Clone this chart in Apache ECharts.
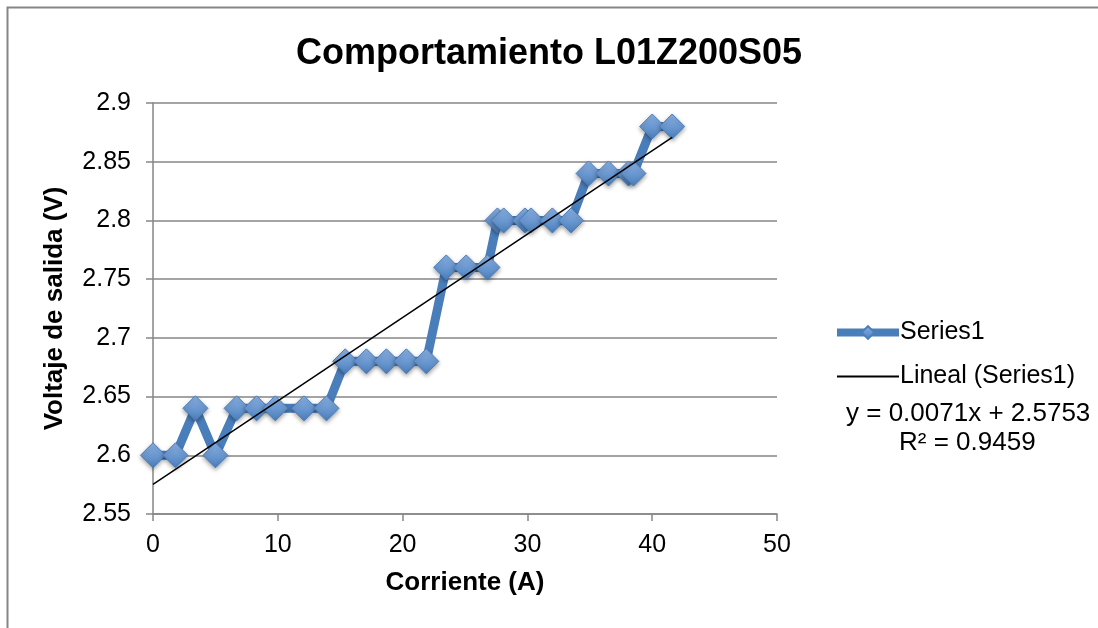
<!DOCTYPE html>
<html>
<head>
<meta charset="utf-8">
<script src="https://cdn.jsdelivr.net/npm/echarts@6/dist/echarts.min.js"></script>
<style>
  html, body { margin: 0; padding: 0; background: #fff; }
  #chart { width: 1098px; height: 628px; }
</style>
</head>
<body>
<div id="chart"></div>
<script>
// Measured current (A) and output voltage (V)
const corriente = [0, 1.8, 3.4, 5.0, 6.7, 8.3, 9.8, 12.1, 13.9, 15.4, 17.1, 18.7, 20.3, 21.9,
  23.5, 25.1, 26.8, 27.6, 28.1, 29.8, 30.3, 32.0, 33.5, 34.9, 36.5, 38.1, 38.5, 40.0, 41.6];
const voltaje = [2.60, 2.60, 2.64, 2.60, 2.64, 2.64, 2.64, 2.64, 2.64, 2.68, 2.68, 2.68, 2.68, 2.68,
  2.76, 2.76, 2.76, 2.80, 2.80, 2.80, 2.80, 2.80, 2.80, 2.84, 2.84, 2.84, 2.84, 2.88, 2.88];

// Linear trend coefficients
const pendiente = 0.0071;
const intercepto = 2.5753;
const r2 = 0.9459;

const xTicks = [0, 10, 20, 30, 40, 50];
const yTicks = [2.55, 2.6, 2.65, 2.7, 2.75, 2.8, 2.85, 2.9];

const serieDatos = corriente.map((x, i) => [x, voltaje[i]]);
const xFin = corriente[corriente.length - 1];
const tendencia = [[0, intercepto + pendiente * 0], [xFin, intercepto + pendiente * xFin]];

const FONT = '"Liberation Sans", Arial, sans-serif';
const AXIS_GREY = '#868686';
const chart = echarts.init(document.getElementById('chart'), null, { renderer: 'canvas' });

chart.setOption({
  animation: false,
  backgroundColor: '#fff',
  title: {
    text: 'Comportamiento L01Z200S05',
    left: 'center',
    top: 31,
    textStyle: { fontFamily: FONT, fontSize: 36, fontWeight: 'bold', color: '#000' }
  },
  grid: { left: 153, top: 103, right: 321, bottom: 114, containLabel: false },
  legend: {
    orient: 'vertical',
    left: 828,
    top: 315,
    itemWidth: 62,
    itemHeight: 16,
    itemGap: 19,
    textStyle: { fontFamily: FONT, fontSize: 25, color: '#000', padding: [0, 0, 0, -4] },
    data: [
      { name: 'Series1', lineStyle: { width: 8, color: '#4a7ebb' } },
      { name: 'Lineal (Series1)', icon: 'path://M0,0 L1,0 L1,0.03 L0,0.03 Z', itemStyle: { color: '#000' } }
    ]
  },
  xAxis: {
    type: 'value',
    min: 0, max: 50, interval: 10,
    name: 'Corriente (A)',
    nameLocation: 'middle',
    nameGap: 56,
    nameTextStyle: { fontFamily: FONT, fontSize: 26, fontWeight: 'bold', color: '#000' },
    axisLine: { show: true, lineStyle: { color: AXIS_GREY, width: 1.5 } },
    axisTick: { show: true, length: 7, lineStyle: { color: AXIS_GREY, width: 1.5 } },
    axisLabel: { fontFamily: FONT, fontSize: 25, color: '#000', margin: 19,
      formatter: v => xTicks.includes(v) ? String(v) : '' },
    splitLine: { show: false }
  },
  yAxis: {
    type: 'value',
    min: 2.55, max: 2.9, interval: 0.05,
    name: 'Voltaje de salida (V)',
    nameLocation: 'middle',
    nameGap: 85,
    nameRotate: 90,
    nameTextStyle: { fontFamily: FONT, fontSize: 26, fontWeight: 'bold', color: '#000' },
    axisLine: { show: true, lineStyle: { color: AXIS_GREY, width: 1.5 } },
    axisTick: { show: true, length: 7, lineStyle: { color: AXIS_GREY, width: 1.5 } },
    axisLabel: { fontFamily: FONT, fontSize: 25, color: '#000', margin: 22,
      formatter: v => {
        const t = yTicks.find(k => Math.abs(k - v) < 1e-6);
        return t === undefined ? '' : String(t);
      } },
    splitLine: { show: true, lineStyle: { color: AXIS_GREY, width: 1.5 } }
  },
  series: [
    {
      name: 'Series1',
      type: 'line',
      data: serieDatos,
      z: 2,
      symbol: 'diamond',
      symbolSize: 25,
      lineStyle: { color: '#4a7ebb', width: 9 },
      itemStyle: {
        color: new echarts.graphic.LinearGradient(0, 0, 0, 1, [
          { offset: 0, color: '#8db3e6' },
          { offset: 1, color: '#4a7ebb' }
        ]),
        borderColor: '#4a7ebb',
        borderWidth: 1,
        shadowColor: 'rgba(0,0,0,0.35)',
        shadowBlur: 4,
        shadowOffsetY: 2
      }
    },
    {
      name: 'Lineal (Series1)',
      type: 'line',
      data: tendencia,
      z: 5,
      symbol: 'none',
      lineStyle: { color: '#000', width: 1.5 },
      itemStyle: { color: '#000' }
    }
  ],
  graphic: [
    {
      type: 'rect',
      silent: true,
      shape: { x: 7.5, y: 7.5, width: 1200, height: 800 },
      style: { fill: 'none', stroke: AXIS_GREY, lineWidth: 2 }
    },
    {
      type: 'text',
      left: 846,
      top: 401,
      style: {
        text: 'y = ' + pendiente + 'x + ' + intercepto,
        fontFamily: FONT, fontSize: 26, fill: '#000'
      }
    },
    {
      type: 'text',
      left: 899,
      top: 430,
      style: {
        text: 'R² = ' + r2,
        fontFamily: FONT, fontSize: 26, fill: '#000'
      }
    }
  ]
});
</script>
</body>
</html>
